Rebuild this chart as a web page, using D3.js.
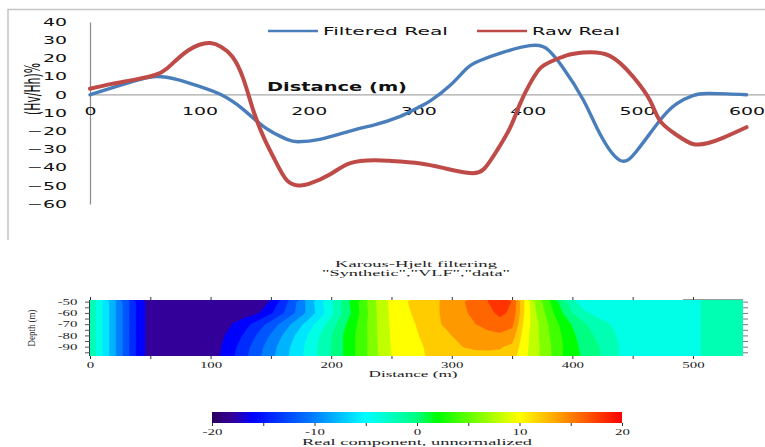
<!DOCTYPE html>
<html>
<head>
<meta charset="utf-8">
<script src="https://cdn.jsdelivr.net/npm/d3@7"></script>
<style>
  html, body { margin: 0; padding: 0; background: #fff; }
  svg { display: block; }
</style>
</head>
<body>
<svg id="chart" width="765" height="447"></svg>
<script>
// ---------- VLF profile (top panel) ----------
const filteredDist = [0,20,40,60,80,100,120,140,160,180,190,210,240,260,283,300,311,329,344,356,378,402,414,420,432,451,466,484,500,521,536,551,564,582,600];
const filteredReal = [0,3.8,7.5,10,8.3,4.6,0,-8,-18,-24.5,-25.8,-24.5,-19.5,-16.5,-12,-7,-3.3,5.1,14.3,18.7,23.4,27,26.5,24,15.2,-3,-21.4,-35.9,-30.6,-14,-5,-0.4,0.7,0.5,0];
const rawDist = [0,20,40,60,70,80,90,100,110,120,130,140,150,160,170,180,190,200,220,238,260,274,302,325,347,360,372,384,393,402,411,420,435,451,475,497,512,521,536,551,565,579,600];
const rawReal = [3.3,6,8.2,11,14.3,19.7,24.5,27.5,28.4,26.3,21,9,-10,-25,-37,-47,-49.8,-49,-43.5,-37.5,-36,-36.3,-37.7,-40.5,-43,-40.8,-30.6,-18,-5,6,14.3,17.9,21.5,23.2,21.4,9.5,-3.3,-14.3,-22,-27,-26.5,-23.5,-17.8];
const profileXTicks = [0,100,200,300,400,500,600];
const profileYTicks = [40,30,20,10,0,-10,-20,-30,-40,-50,-60];
const seriesNames = ["Filtered Real", "Raw Real"];

// ---------- Karous-Hjelt pseudo-section (bottom panel) ----------
const sectionDist = [0,10,20,30,40,50,60,70,80,90,100,110,120,130,140,150,160,170,180,190,200,210,220,230,240,250,260,270,280,290,300,310,320,330,340,350,360,370,380,390,400,410,420,430,440,450,460,470,480,490,500,510,520,530,540];
const sectionDepth = [-50,-60,-70,-80,-90,-100];
const sectionLeft = [-0.3,-3.9,-7.5,-11.1,-14.7,-17,-17,-17,-17,-17];
const depth50 = sectionLeft.concat([-17,-17,-17,-17,-17,-15.8,-13.1,-10.4,-7.6,-4.9, -2.2,0.6,3.3,6.0,8.8,10.5,11.7,12.5,13.3,14.0, 15.0,15.9,17.0,18.0,19.3,17.9,12.0,7.5,4.5,1.5, -1.3,-3.5,-3.2,-3,-3,-3,-3,-3,-3,-3, -3,-1.5,-1.5,-1.5,-1.5]);
const depth60 = sectionLeft.concat([-17,-17,-17,-16.9,-16.1,-14.3,-12.2,-10,-7.7,-5.2, -2.6,0.2,3,5.8,8.6,10.4,11.5,12.3,13.1,14, 14.9,15.7,16.6,17.5,18.4,17.6,12,8,5.2,2.5, 0,-1.6,-2.6,-3.2,-3.1,-3,-3,-3,-3,-3, -3,-1.5,-1.5,-1.5,-1.5]);
const depth70 = sectionLeft.concat([-17,-16.7,-15.8,-14.5,-12.9,-11.2,-9.3,-7.3,-5.3,-3.2, -1.0,1.4,3.7,6,8.5,10.3,11.3,12.0,12.9,13.9, 14.6,15.3,16,16.8,17.3,16.5,11.5,8.5,6,3.7, 1.8,0.2,-1,-1.9,-2.5,-3,-3,-3,-3,-3, -3,-1.5,-1.5,-1.5,-1.5]);
const depth80 = sectionLeft.concat([-17,-16.2,-15,-13.4,-11.6,-9.8,-7.9,-6.0,-4.1,-2.1, -0.1,2.0,4.0,6.0,8.4,10.2,11.1,11.8,12.5,13.3, 14.0,14.5,14.9,15.3,15.6,15,11,8.5,6.2,4.2, 2.4,0.9,-0.3,-1.5,-2.3,-3,-3,-3,-3,-3, -3,-1.5,-1.5,-1.5,-1.5]);
const depth90 = sectionLeft.concat([-17,-15.9,-14.3,-12.5,-10.7,-8.9,-7.1,-5.3,-3.6,-1.8, 0,2,4,6,8.3,10.1,10.9,11.6,12.2,12.9, 13.6,14.05,14.2,14.2,14.15,13.6,10.8,8.6,6.5,4.4, 2.5,1.5,0.3,-1.1,-2.2,-3,-3,-3,-3,-3, -3,-1.5,-1.5,-1.5,-1.5]);
const depth100 = sectionLeft.concat([-17,-15.6,-13.9,-12.1,-10.3,-8.5,-6.8,-5.1,-3.5,-1.8, 0,2,4,6,8.2,10.0,10.8,11.5,12.1,12.6, 13.0,13.3,13.5,13.6,13.5,12.8,10.5,8.5,6.5,4.4, 2.4,1.8,0.5,-1.0,-2.2,-3,-3,-3,-3,-3, -3,-1.5,-1.5,-1.5,-1.5]);
const sectionRows = [depth50, depth60, depth70, depth80, depth90, depth100];
const sectionXTicks = [0,50,100,150,200,250,300,350,400,450,500];
const sectionYTicks = [-50,-55,-60,-65,-70,-75,-80,-85,-90,-95];
const contourLevels = [-20,-18,-16,-14,-12,-10,-8,-6,-4,-2,0,2,4,6,8,10,12,14,16,18];
const colorbarTicks = [-20,-15,-10,-5,0,5,10,15,20];
const colorStops = [-20,-18,-16,-10,-5,0,2,10,20];
const colorRamp = ["#2a0060","#330099","#0000ff","#0080ff","#00ffff","#00ff80","#00ff00","#ffff00","#ff0000"];

const svg = d3.select("#chart");

// stretch helper: widen text horizontally by a factor
function stretchBy(sel, k) {
  sel.each(function () {
    const w = this.getComputedTextLength();
    if (!w) return;
    this.setAttribute("textLength", w * k);
    this.setAttribute("lengthAdjust", "spacingAndGlyphs");
  });
}
function fitTo(sel, w) {
  sel.attr("textLength", w).attr("lengthAdjust", "spacingAndGlyphs");
}

// ================= top panel =================
const profile = svg.append("g");
// chart frame
profile.append("path").attr("d", "M8,240V9.5H765")
  .attr("fill", "none").attr("stroke", "#c4c4c4").attr("stroke-width", 1.5);

const px = d3.scaleLinear().domain([0, 600]).range([90, 746.5]);
const py = d3.scaleLinear().domain([-60, 40]).range([204, 22]);

// zero line across the plot
profile.append("line").attr("x1", 90).attr("x2", 765).attr("y1", py(0)).attr("y2", py(0))
  .attr("stroke", "#a8a8a8").attr("stroke-width", 1.25);

const yAx = profile.append("g").attr("transform", "translate(90,0)")
  .call(d3.axisLeft(py).tickValues(profileYTicks).tickSize(0).tickSizeOuter(0).tickPadding(23));
yAx.select(".domain").attr("stroke", "#8c8c8c").attr("stroke-width", 1.25);
yAx.selectAll("text").attr("font-family", "DejaVu Sans").attr("font-size", 10.5).attr("fill", "#111")
  .call(stretchBy, 1.8);

const xAx = profile.append("g").attr("transform", `translate(0,${py(0)})`)
  .call(d3.axisBottom(px).tickValues(profileXTicks).tickSize(0).tickPadding(13));
xAx.select(".domain").remove();
xAx.selectAll("text").attr("font-family", "DejaVu Sans").attr("font-size", 10.5).attr("fill", "#111")
  .call(stretchBy, 1.8);

// axis titles
profile.append("text").text("(Hv/Hh)%")
  .attr("transform", "translate(39.5,89) rotate(-90)")
  .attr("text-anchor", "middle").attr("font-family", "DejaVu Sans").attr("font-size", 21).attr("fill", "#111")
  .call(fitTo, 52);
profile.append("text").text("Distance (m)")
  .attr("x", 267).attr("y", 91)
  .attr("font-family", "DejaVu Sans").attr("font-weight", "bold").attr("font-size", 12.3).attr("fill", "#111")
  .call(fitTo, 140);

// profile curves
const line = d3.line().x(d => px(d[0])).y(d => py(d[1])).curve(d3.curveNatural);
const seriesColor = ["#4a7ebb", "#be4b48"];
profile.append("path").datum(d3.zip(filteredDist, filteredReal)).attr("d", line)
  .attr("fill", "none").attr("stroke", seriesColor[0]).attr("stroke-width", 3.4)
  .attr("stroke-linejoin", "round").attr("stroke-linecap", "round");
profile.append("path").datum(d3.zip(rawDist, rawReal)).attr("d", line)
  .attr("fill", "none").attr("stroke", seriesColor[1]).attr("stroke-width", 4)
  .attr("stroke-linejoin", "round").attr("stroke-linecap", "round");

// legend
const legendX = [268, 477], legendW = [125, 88];
seriesNames.forEach((name, i) => {
  profile.append("line").attr("x1", legendX[i]).attr("x2", legendX[i] + 50).attr("y1", 31).attr("y2", 31)
    .attr("stroke", seriesColor[i]).attr("stroke-width", 2.5);
  profile.append("text").text(name).attr("x", legendX[i] + 55).attr("y", 34.5)
    .attr("font-family", "DejaVu Sans").attr("font-size", 11.2).attr("fill", "#111")
    .call(fitTo, legendW[i]);
});

// ================= bottom panel =================
const serif = "Liberation Serif";
const ink = "#222";
const section = svg.append("g");

section.append("text").text("Karous-Hjelt filtering").attr("x", 416).attr("y", 266.5)
  .attr("text-anchor", "middle").attr("font-family", serif).attr("font-size", 7.5).attr("fill", ink)
  .call(fitTo, 162);
section.append("text").text("\"Synthetic\",\"VLF\",\"data\"").attr("x", 416).attr("y", 275.5)
  .attr("text-anchor", "middle").attr("font-family", serif).attr("font-size", 7.5).attr("fill", ink)
  .call(fitTo, 188);

const sx = d3.scaleLinear().domain([0, 541.5]).range([90, 743]);
const sy = d3.scaleLinear().domain([-98.3, -48.5]).range([356, 300]);
const color = d3.scaleLinear().domain(colorStops).range(colorRamp).clamp(true);

section.append("clipPath").attr("id", "secClip").append("rect")
  .attr("x", 90).attr("y", 300).attr("width", 653).attr("height", 56);

const nx = sectionDist.length, ny = sectionDepth.length;
const grid = [].concat(...sectionRows);
const bands = d3.contours().size([nx, ny]).thresholds(contourLevels)(grid);
const dStep = sectionDist[1] - sectionDist[0];
const zStep = sectionDepth[1] - sectionDepth[0];
const gridProj = d3.geoTransform({
  point(x, y) {
    this.stream.point(sx(sectionDist[0] + (x - 0.5) * dStep), sy(sectionDepth[0] + (y - 0.5) * zStep));
  }
});
const bandPath = d3.geoPath(gridProj);
section.append("g").attr("clip-path", "url(#secClip)")
  .selectAll("path").data(bands).join("path")
  .attr("d", bandPath)
  .attr("fill", d => color(d.value))
  .attr("stroke", d => color(d.value)).attr("stroke-width", 0.3);

// frame pieces
section.append("line").attr("x1", 683).attr("x2", 743).attr("y1", 299.5).attr("y2", 299.5)
  .attr("stroke", "#9a9a9a").attr("stroke-width", 1.2);
section.append("line").attr("x1", 89.5).attr("x2", 89.5).attr("y1", 300).attr("y2", 356)
  .attr("stroke", "#333").attr("stroke-width", 1);

function styleTicks(g) {
  g.select(".domain").remove();
  g.selectAll(".tick line").attr("stroke", "#333").attr("stroke-width", 1);
  g.selectAll("text").attr("font-family", serif).attr("font-size", 8.5).attr("fill", ink);
}
const sxB = section.append("g").attr("transform", "translate(0,356)")
  .call(d3.axisBottom(sx).tickValues(sectionXTicks).tickSize(3).tickPadding(3)
    .tickFormat(d => d % 100 === 0 ? d : ""));
styleTicks(sxB);
sxB.selectAll("text").call(stretchBy, 1.75);
const sxT = section.append("g").attr("transform", "translate(0,300)")
  .call(d3.axisTop(sx).tickValues(sectionXTicks).tickSize(3).tickFormat(""));
styleTicks(sxT);
const syL = section.append("g").attr("transform", "translate(90,0)")
  .call(d3.axisLeft(sy).tickValues(sectionYTicks).tickSize(5).tickPadding(7.5)
    .tickFormat(d => d % 10 === 0 ? d : ""));
styleTicks(syL);
syL.selectAll(".tick line").attr("stroke", "#555");
syL.selectAll("text").call(stretchBy, 1.75);
const syR = section.append("g").attr("transform", "translate(743,0)")
  .call(d3.axisRight(sy).tickValues(sectionYTicks).tickSize(5).tickFormat(""));
styleTicks(syR);
syR.selectAll(".tick line").attr("stroke", "#777");

section.append("text").text("Distance (m)").attr("x", 413).attr("y", 377)
  .attr("text-anchor", "middle").attr("font-family", serif).attr("font-size", 9).attr("fill", ink)
  .call(fitTo, 89);
section.append("text").text("Depth (m)")
  .attr("transform", "translate(35,328) rotate(-90)")
  .attr("text-anchor", "middle").attr("font-family", serif).attr("font-size", 10.5).attr("fill", ink)
  .call(fitTo, 37);

// colour bar
const cb = d3.scaleLinear().domain([-20, 20]).range([212, 622]);
const grad = svg.append("defs").append("linearGradient").attr("id", "cbGrad")
  .attr("x1", "0%").attr("x2", "100%").attr("y1", "0%").attr("y2", "0%");
colorStops.forEach((v, i) => {
  grad.append("stop").attr("offset", ((v + 20) / 40 * 100) + "%").attr("stop-color", colorRamp[i]);
});
section.append("rect").attr("x", cb(-20)).attr("y", 412).attr("width", cb(20) - cb(-20)).attr("height", 11)
  .attr("fill", "url(#cbGrad)");
const cbAx = section.append("g").attr("transform", "translate(0,423)")
  .call(d3.axisBottom(cb).tickValues(colorbarTicks).tickSize(3).tickPadding(3)
    .tickFormat(d => d % 10 === 0 ? d : ""));
styleTicks(cbAx);
cbAx.selectAll("text").call(stretchBy, 1.75);
section.append("text").text("Real component, unnormalized").attr("x", 417).attr("y", 444.5)
  .attr("text-anchor", "middle").attr("font-family", serif).attr("font-size", 9).attr("fill", ink)
  .call(fitTo, 230);
</script>
</body>
</html>
